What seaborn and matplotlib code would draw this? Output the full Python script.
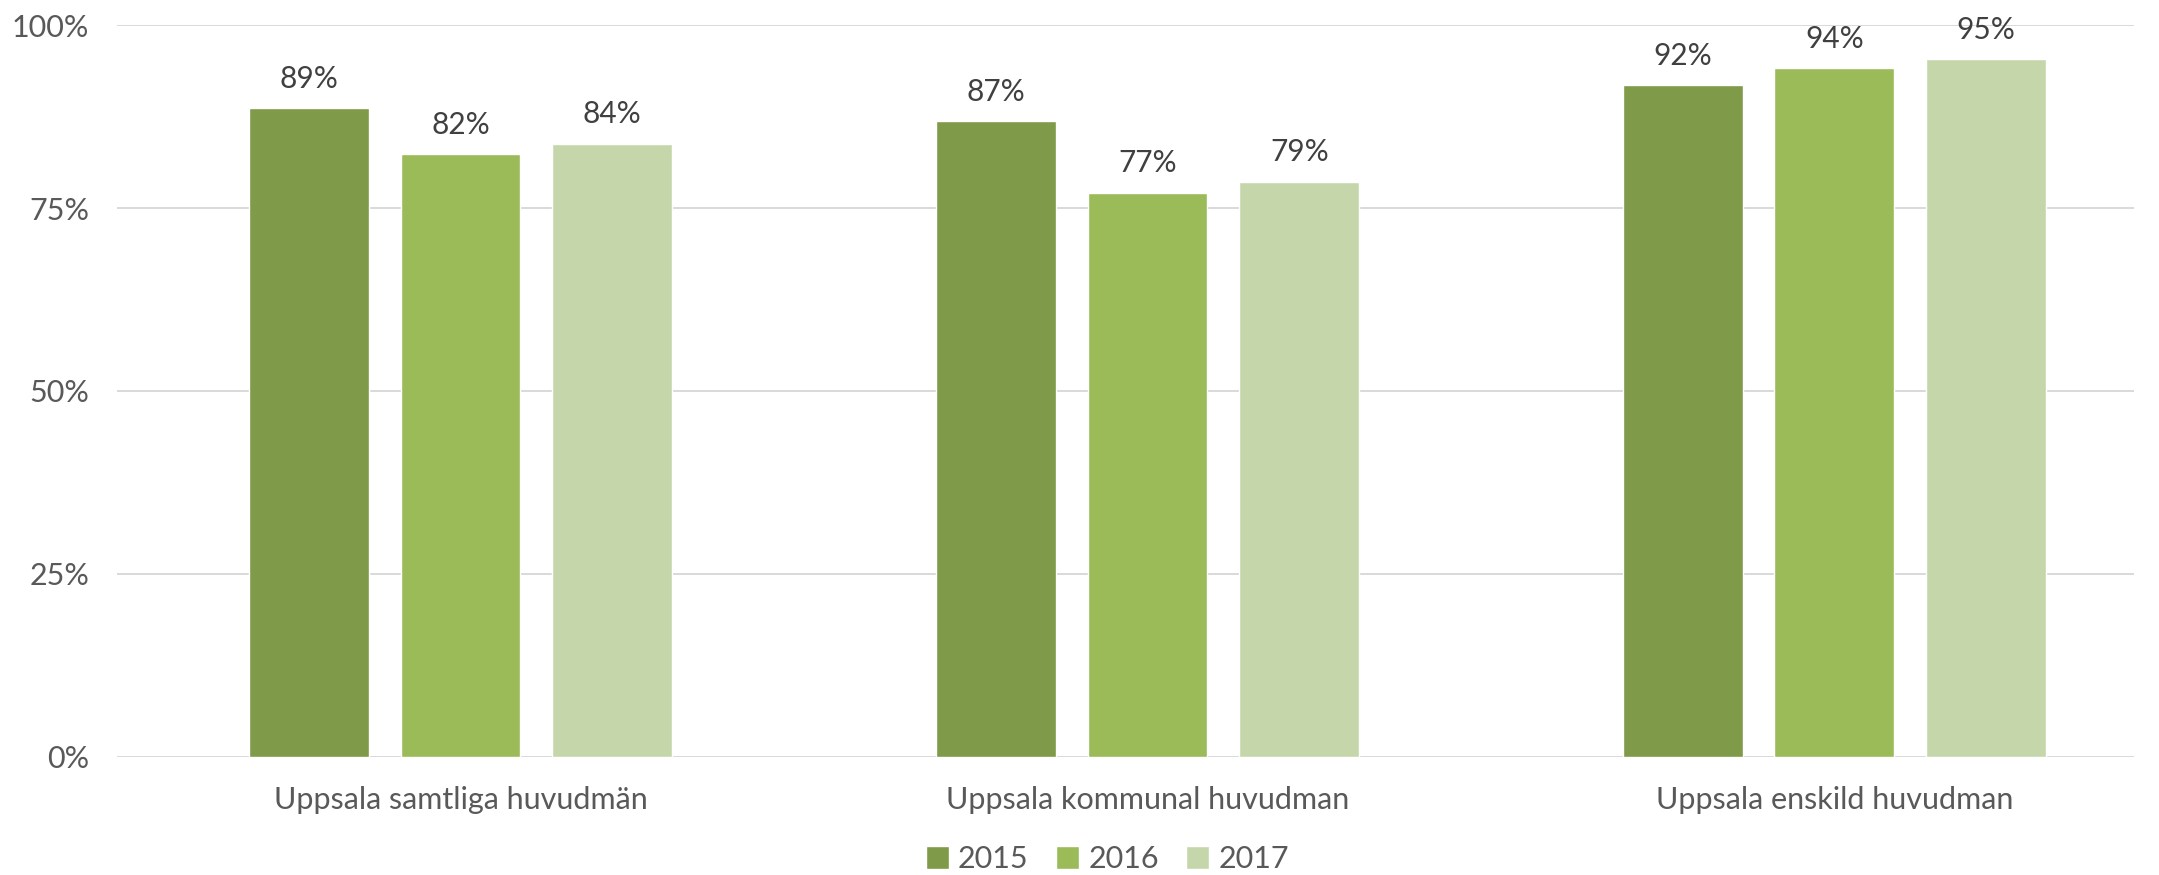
import pandas as pd
import matplotlib
matplotlib.use("Agg")
import matplotlib.pyplot as plt
from matplotlib.patches import Patch
import seaborn as sns

categories = ["Uppsala samtliga huvudmän", "Uppsala kommunal huvudman", "Uppsala enskild huvudman"]
years = ["2015", "2016", "2017"]
values_2015 = [88.6, 86.9, 91.8]
values_2016 = [82.4, 77.1, 94.1]
values_2017 = [83.8, 78.6, 95.3]
yticks = [0, 25, 50, 75, 100]

colors = ["#7f9a48", "#9bbb59", "#c6d6ab"]
text_col = "#595959"

df = pd.DataFrame({"Kategori": categories,
                   "2015": values_2015,
                   "2016": values_2016,
                   "2017": values_2017})
df = df.melt("Kategori", var_name="År", value_name="Andel")

sns.set_theme(style="white")
plt.rcParams['font.family'] = ['Lato', 'DejaVu Sans']

fig = plt.figure(figsize=(21.59, 8.75), dpi=100)
ax = fig.add_axes([0.0542, 0.1349, 0.9342, 0.8365])

sns.barplot(data=df, x="Kategori", y="Andel", hue="År", palette=colors,
            width=0.663, gap=0.21, saturation=1, legend=False, ax=ax)

# value labels above each bar
for cont in ax.containers:
    ax.bar_label(cont, labels=["%.0f%%" % v for v in cont.datavalues],
                 padding=11, fontsize=21.5, color="#404040")

ax.set_ylim(0, 100)
ax.set_xlim(-0.5, 2.436)
ax.set_yticks(yticks)
ax.set_yticklabels(["%d%%" % t for t in yticks])
ax.yaxis.grid(True, color="#d9d9d9", linewidth=1.4)
ax.set_axisbelow(True)
for s in ax.spines.values():
    s.set_visible(False)
ax.set_xlabel("")
ax.set_ylabel("")
ax.tick_params(axis="y", length=0, pad=20, labelsize=22, labelcolor=text_col)
ax.tick_params(axis="x", length=0, pad=21, labelsize=22, labelcolor=text_col)

handles = [Patch(facecolor=c, label=y) for c, y in zip(colors, years)]
fig.legend(handles=handles, loc="center", bbox_to_anchor=(0.513, 0.018),
           ncol=3, frameon=False, fontsize=22, labelcolor=text_col,
           handlelength=0.75, handleheight=0.75, handletextpad=0.3, columnspacing=0.9)

fig.savefig("out.png", dpi=100)
